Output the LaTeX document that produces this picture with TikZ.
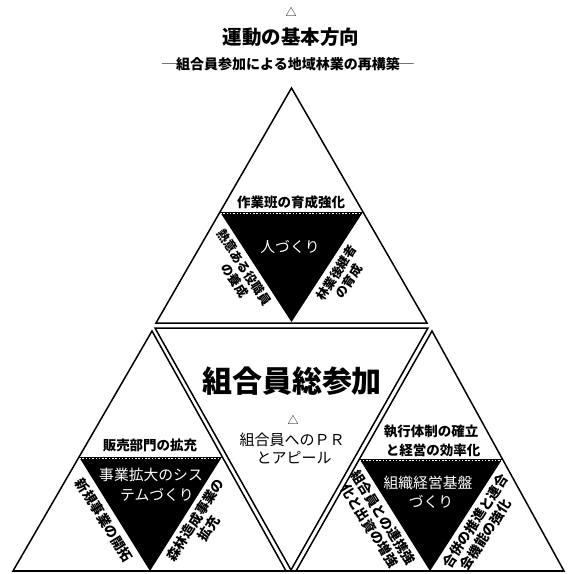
\documentclass[tikz,border=0pt]{standalone}
\usepackage{fontspec}
\newfontfamily\jp{Noto Sans CJK JP}
\begin{document}
\begin{tikzpicture}[x=1pt,y=-1pt,
  tri/.style={draw=black,line width=1.5pt,line join=miter},
  blk/.style={fill=black},
  wdash/.style={draw=white,line width=0.8pt,dash pattern=on 1.5pt off 1.8pt},
  ttl/.style={font=\jp\bfseries\fontsize{19.5}{20}\selectfont,inner sep=0pt},
  subt/.style={font=\jp\bfseries\fontsize{14}{14}\selectfont,inner sep=0pt},
  big/.style={font=\jp\bfseries\fontsize{30}{30}\selectfont,inner sep=0pt},
  lab/.style={font=\jp\bfseries\fontsize{13.5}{14}\selectfont,inner sep=0pt},
  midt/.style={font=\jp\fontsize{15}{15}\selectfont,inner sep=0pt},
  wlab/.style={font=\jp\fontsize{14.8}{15}\selectfont,text=white,inner sep=0pt},
  sidet/.style={font=\jp\bfseries\fontsize{12.5}{12.5}\selectfont,inner sep=0pt},
  sideb/.style={font=\jp\bfseries\fontsize{13.5}{13.5}\selectfont,inner sep=0pt},
  tmark/.style={font=\jp\fontsize{11}{11}\selectfont,inner sep=0pt}]
\useasboundingbox (0,0) rectangle (574,574);
\fill[white] (0,0) rectangle (574,574);

% ---- header
\node[tmark] (m0) at (291,12) {△};
\node[ttl] (title) at (291,37) {運動の基本方向};
\node[subt] (subtitle) at (288,64) {─組合員参加による地域林業の再構築─};

% ---- outer triangles
\coordinate (TA) at (291.5,88);
\coordinate (TL) at (156,323);
\coordinate (TR) at (427,323);
\coordinate (CL) at (155,328);
\coordinate (CR) at (428,328);
\coordinate (CB) at (291,570);
\coordinate (LA) at (152,331);
\coordinate (LL) at (13,571);
\coordinate (LR) at (286,571);
\coordinate (RA) at (432,331);
\coordinate (RL) at (296,571);
\coordinate (RR) at (564,571);

% ---- black inner triangles
\coordinate (tb1) at (220,212);
\coordinate (tb2) at (363,212);
\coordinate (tb3) at (291.5,322);
\coordinate (lb1) at (79,457);
\coordinate (lb2) at (222,457);
\coordinate (lb3) at (150,571);
\coordinate (rb1) at (359.5,459);
\coordinate (rb2) at (502.4,459);
\coordinate (rb3) at (430,571);

\fill[blk] (tb1) -- (tb2) -- (tb3) -- cycle;
\fill[blk] (lb1) -- (lb2) -- (lb3) -- cycle;
\fill[blk] (rb1) -- (rb2) -- (rb3) -- cycle;
\draw[wdash] ([yshift=-1.2pt]tb1) -- ([yshift=-1.2pt]tb2);
\draw[wdash] ([yshift=-1.2pt]lb1) -- ([yshift=-1.2pt]lb2);
\draw[wdash] ([yshift=-1.2pt]rb1) -- ([yshift=-1.2pt]rb2);

\draw[tri] (TA) -- (TL) -- (TR) -- cycle;
\draw[tri] (CL) -- (CR) -- (CB) -- cycle;
\draw[tri] (LA) -- (LL) -- (LR) -- cycle;
\draw[tri] (RA) -- (RL) -- (RR) -- cycle;
\draw[black,line width=2.4pt] (LL) -- (RR);

% ---- top triangle texts
\node[lab] (t1) at (291,202) {作業班の育成強化};
\node[wlab] (t2) at (290,247) {人づくり};
\node[sidet,rotate=-57] (t3) at (244.1,267.4) {熱意ある役職員};
\node[sidet,rotate=-57] (t4) at (234.8,280.6) {の養成};
\node[sidet,rotate=57] (t5) at (336.5,273) {林業後継者};
\node[sidet,rotate=57] (t6) at (349,281.2) {の育成};

% ---- centre triangle texts
\node[big] (c1) at (292,381) {組合員総参加};
\node[tmark] (c2) at (293,420) {△};
\node[midt] (c3) at (292,440) {組合員へのＰＲ};
\node[midt] (c4) at (294,458) {とアピール};

% ---- bottom-left triangle texts
\node[lab] (l1) at (150,445) {販売部門の拡充};
\node[wlab] (l2) at (151,475) {事業拡大のシス};
\node[wlab] (l3) at (157,495) {テムづくり};
\node[sideb,rotate=-58] (l4) at (104.3,520.3) {新規事業の開拓};
\node[sideb,rotate=58] (l5) at (195.3,519.9) {森林造成事業の};
\node[sideb,rotate=58] (l6) at (208.8,528.4) {拡充};

% ---- bottom-right triangle texts
\node[lab] (r1) at (431,432) {執行体制の確立};
\node[lab] (r2) at (433,450) {と経営の効率化};
\node[wlab] (r3) at (428,483) {組織経営基盤};
\node[wlab] (r4) at (431,502) {づくり};
\node[sideb,rotate=-58] (r5) at (383.3,517.5) {組合員との連携強};
\node[sideb,rotate=-58] (r6) at (369.8,526) {化と出資の増強};
\node[sideb,rotate=57] (r7) at (475.4,521) {合併の推進と連合};
\node[sideb,rotate=57] (r8) at (485.6,534.7) {会機能の強化};
\end{tikzpicture}
\end{document}
